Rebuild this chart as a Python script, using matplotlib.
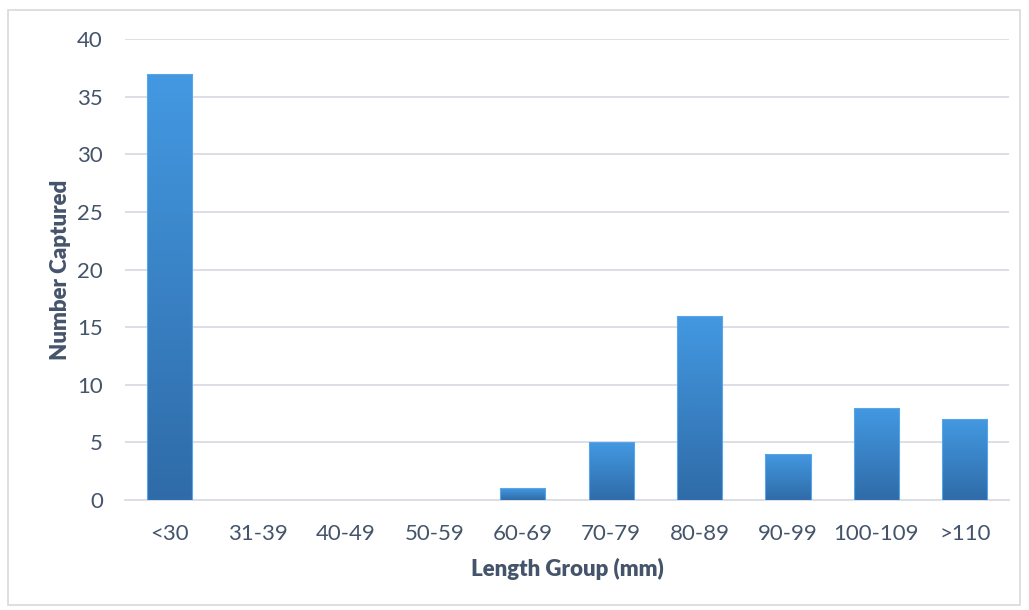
import matplotlib.pyplot as plt
import numpy as np
from matplotlib.colors import LinearSegmentedColormap
from matplotlib.patches import Rectangle

groups = ["<30", "31-39", "40-49", "50-59", "60-69", "70-79", "80-89", "90-99", "100-109", ">110"]
counts = [37, 0, 0, 0, 1, 5, 16, 4, 8, 7]

text_col = "#44546A"
grid_col = "#D9DDE4"
plt.rcParams['font.family'] = ['Lato', 'DejaVu Sans']

fig = plt.figure(figsize=(10.29, 6.10), dpi=100)
ax = fig.add_axes([125 / 1029, 110 / 610, 884 / 1029, 461 / 610])

# outer chart frame
fig.patches.append(Rectangle((8 / 1029, 5 / 610), 1012 / 1029, 595 / 610,
                             transform=fig.transFigure, fill=False,
                             edgecolor="#D9D9D9", linewidth=1.2))

x = np.arange(len(groups))
bars = ax.bar(x, counts, width=0.51, color="none", edgecolor="none", zorder=3)

# vertical gradient fill, lighter at top
cmap = LinearSegmentedColormap.from_list("barfill", ["#2F6BA8", "#4399E2"])
grad = np.linspace(0, 1, 256).reshape(-1, 1)
for b in bars:
    h = b.get_height()
    if h <= 0:
        continue
    x0 = b.get_x()
    w = b.get_width()
    # soft shadow
    ax.add_patch(Rectangle((x0 + 0.012, -0.15), w, h, facecolor="#000000",
                           alpha=0.12, edgecolor="none", zorder=2))
    im = ax.imshow(grad, extent=(x0, x0 + w, 0, h), origin="lower", cmap=cmap,
                   aspect="auto", zorder=3, interpolation="bicubic")
    im.set_clip_path(b)
    ax.add_patch(Rectangle((x0, 0), w, h, fill=False, edgecolor="#5AA5E8",
                           linewidth=0.8, zorder=4))

ax.set_xlim(-0.5, len(groups) - 0.5)
ax.set_ylim(0, 40)
ax.set_yticks(range(0, 41, 5))
ax.set_xticks(x)
ax.set_xticklabels(groups)
ax.yaxis.grid(True, color=grid_col, linewidth=1.3, zorder=0)
ax.set_axisbelow(True)
for s in ["top", "right", "left"]:
    ax.spines[s].set_visible(False)
ax.spines["bottom"].set_color(grid_col)
ax.spines["bottom"].set_linewidth(1.3)
ax.tick_params(axis="both", length=0, labelsize=16, labelcolor=text_col)
ax.tick_params(axis="y", pad=16)
ax.tick_params(axis="x", pad=17)

ax.set_ylabel("Number Captured", fontsize=16, fontweight="heavy", color=text_col, labelpad=4)
ax.set_xlabel("Length Group (mm)", fontsize=16, fontweight="heavy", color=text_col, labelpad=10)

fig.savefig("out.png", dpi=100, facecolor="white")
